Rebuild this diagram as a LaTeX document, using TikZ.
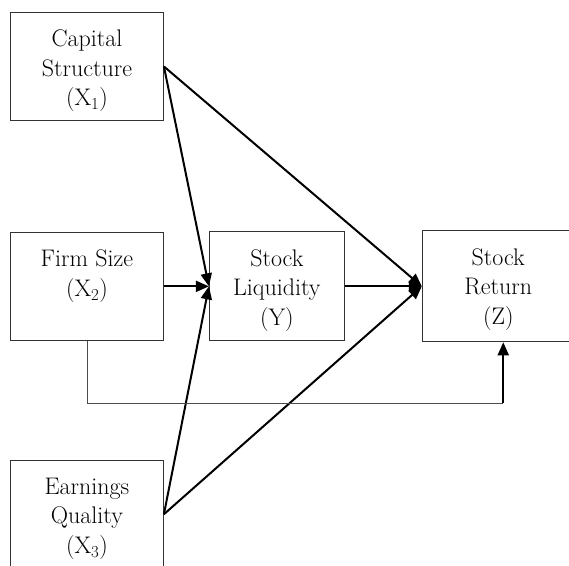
\documentclass[tikz,border=0pt]{standalone}
\usetikzlibrary{arrows.meta}
\usetikzlibrary{positioning}

\tikzset{
    box/.style={draw=black!80, line width=0.9pt, inner sep=0pt,
        minimum width=153pt, minimum height=108pt},
    boxtext/.style={anchor=north, align=center, inner sep=0pt, yshift=-18pt,
        font=\fontsize{24}{29.5}\selectfont},
    link/.style={-{Triangle[length=13pt,width=11pt]}, line width=2pt},
}

\begin{document}
\begin{tikzpicture}[x=1pt, y=-1pt]
    \clip (0,0) rectangle (569,565);

    \node (X1) [box, anchor=north west, label={[boxtext]north:{Capital\\Structure\\(X\textsubscript{1})}}] at (10,12) {};
    \node (X2) [box, below=111pt of X1, label={[boxtext]north:{Firm Size\\(X\textsubscript{2})}}] {};
    \node (X3) [box, below=119pt of X2, label={[boxtext]north:{Earnings\\Quality\\(X\textsubscript{3})}}] {};
    \node (Y) [box, minimum width=135pt, minimum height=109pt, right=45pt of X2,
        label={[boxtext]north:{Stock\\Liquidity\\(Y)}}] {};
    % box runs past the right edge of the page
    \node (Z) [box, minimum width=162pt, minimum height=111pt, right=77pt of Y,
        label={[boxtext, xshift=-5pt]north:{Stock\\Return\\(Z)}}] {};

    \coordinate (turn) at (Z.south |- 0,403);

    \draw[link] (X1.east) -- (Y.west);
    \draw[link] (X1.east) -- (Z.west);
    \draw[link] (X2.east) -- (Y.west);
    \draw[link] (Y.east) -- (Z.west);
    \draw[link] (X3.east) -- (Y.west);
    \draw[link] (X3.east) -- (Z.west);

    \draw[black!70, line width=0.9pt] (X2.south) |- (turn);
    \draw[link] (turn) -- (Z.south);
\end{tikzpicture}
\end{document}
